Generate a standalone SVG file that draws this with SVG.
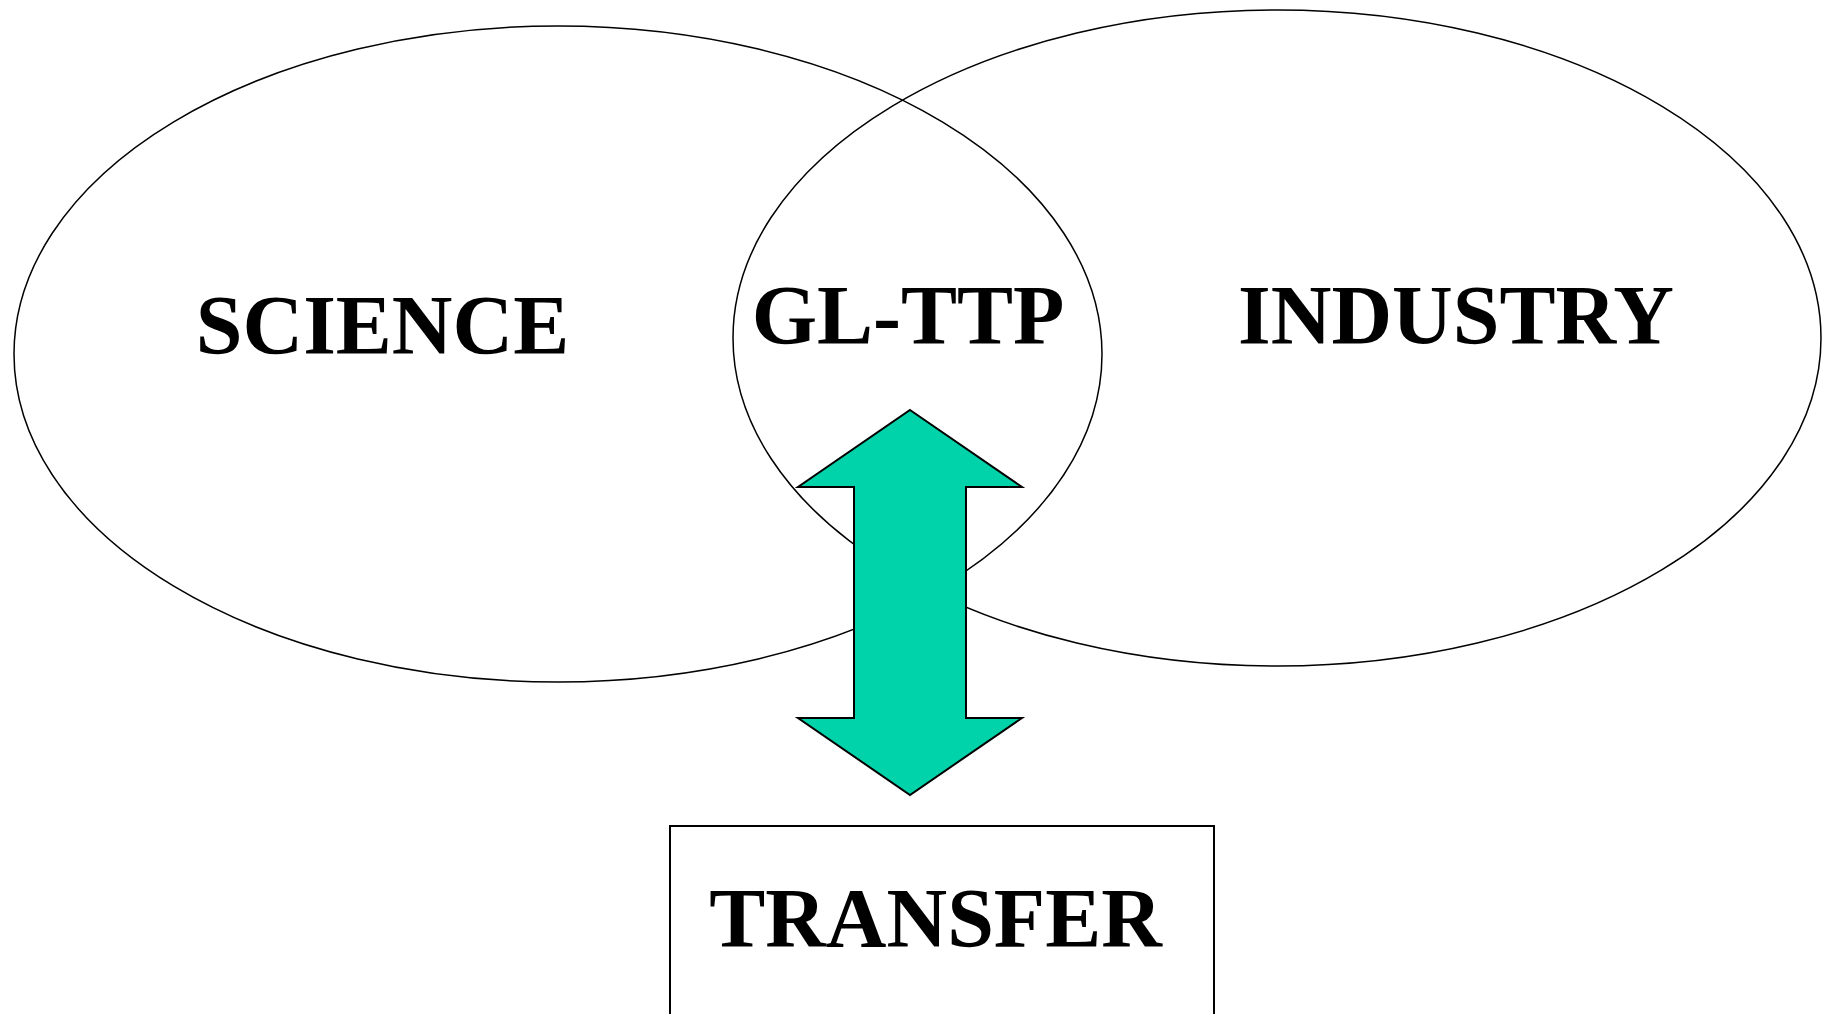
<svg xmlns="http://www.w3.org/2000/svg" width="1822" height="1014" viewBox="0 0 1822 1014">
  <style>
    .ell { fill: none; stroke: #000; stroke-width: 1.5; }
    .lbl { font-family: "Liberation Serif", "Times New Roman", serif; font-weight: bold; font-size: 84px; fill: #000; text-anchor: middle; }
    .arrow { fill: #00D2AA; stroke: #000; stroke-width: 2; stroke-linejoin: miter; }
    .box { fill: none; stroke: #000; stroke-width: 2; }
  </style>
  <rect x="0" y="0" width="1822" height="1014" fill="#fff"/>
  <g id="science">
    <ellipse class="ell" cx="558" cy="354" rx="544" ry="328"/>
    <text class="lbl" x="382.5" y="354">SCIENCE</text>
  </g>
  <g id="industry">
    <ellipse class="ell" cx="1277" cy="338" rx="544" ry="328"/>
    <text class="lbl" x="1456" y="344">INDUSTRY</text>
  </g>
  <g id="glttp">
    <text class="lbl" x="908" y="344">GL-TTP</text>
  </g>
  <g id="connectors">
    <polygon class="arrow" points="910,410 1022,487 966,487 966,718 1022,718 910,795 798,718 854,718 854,487 798,487"/>
  </g>
  <g id="transfer">
    <rect class="box" x="670" y="826" width="544" height="220"/>
    <text class="lbl" x="935.5" y="947">TRANSFER</text>
  </g>
</svg>
